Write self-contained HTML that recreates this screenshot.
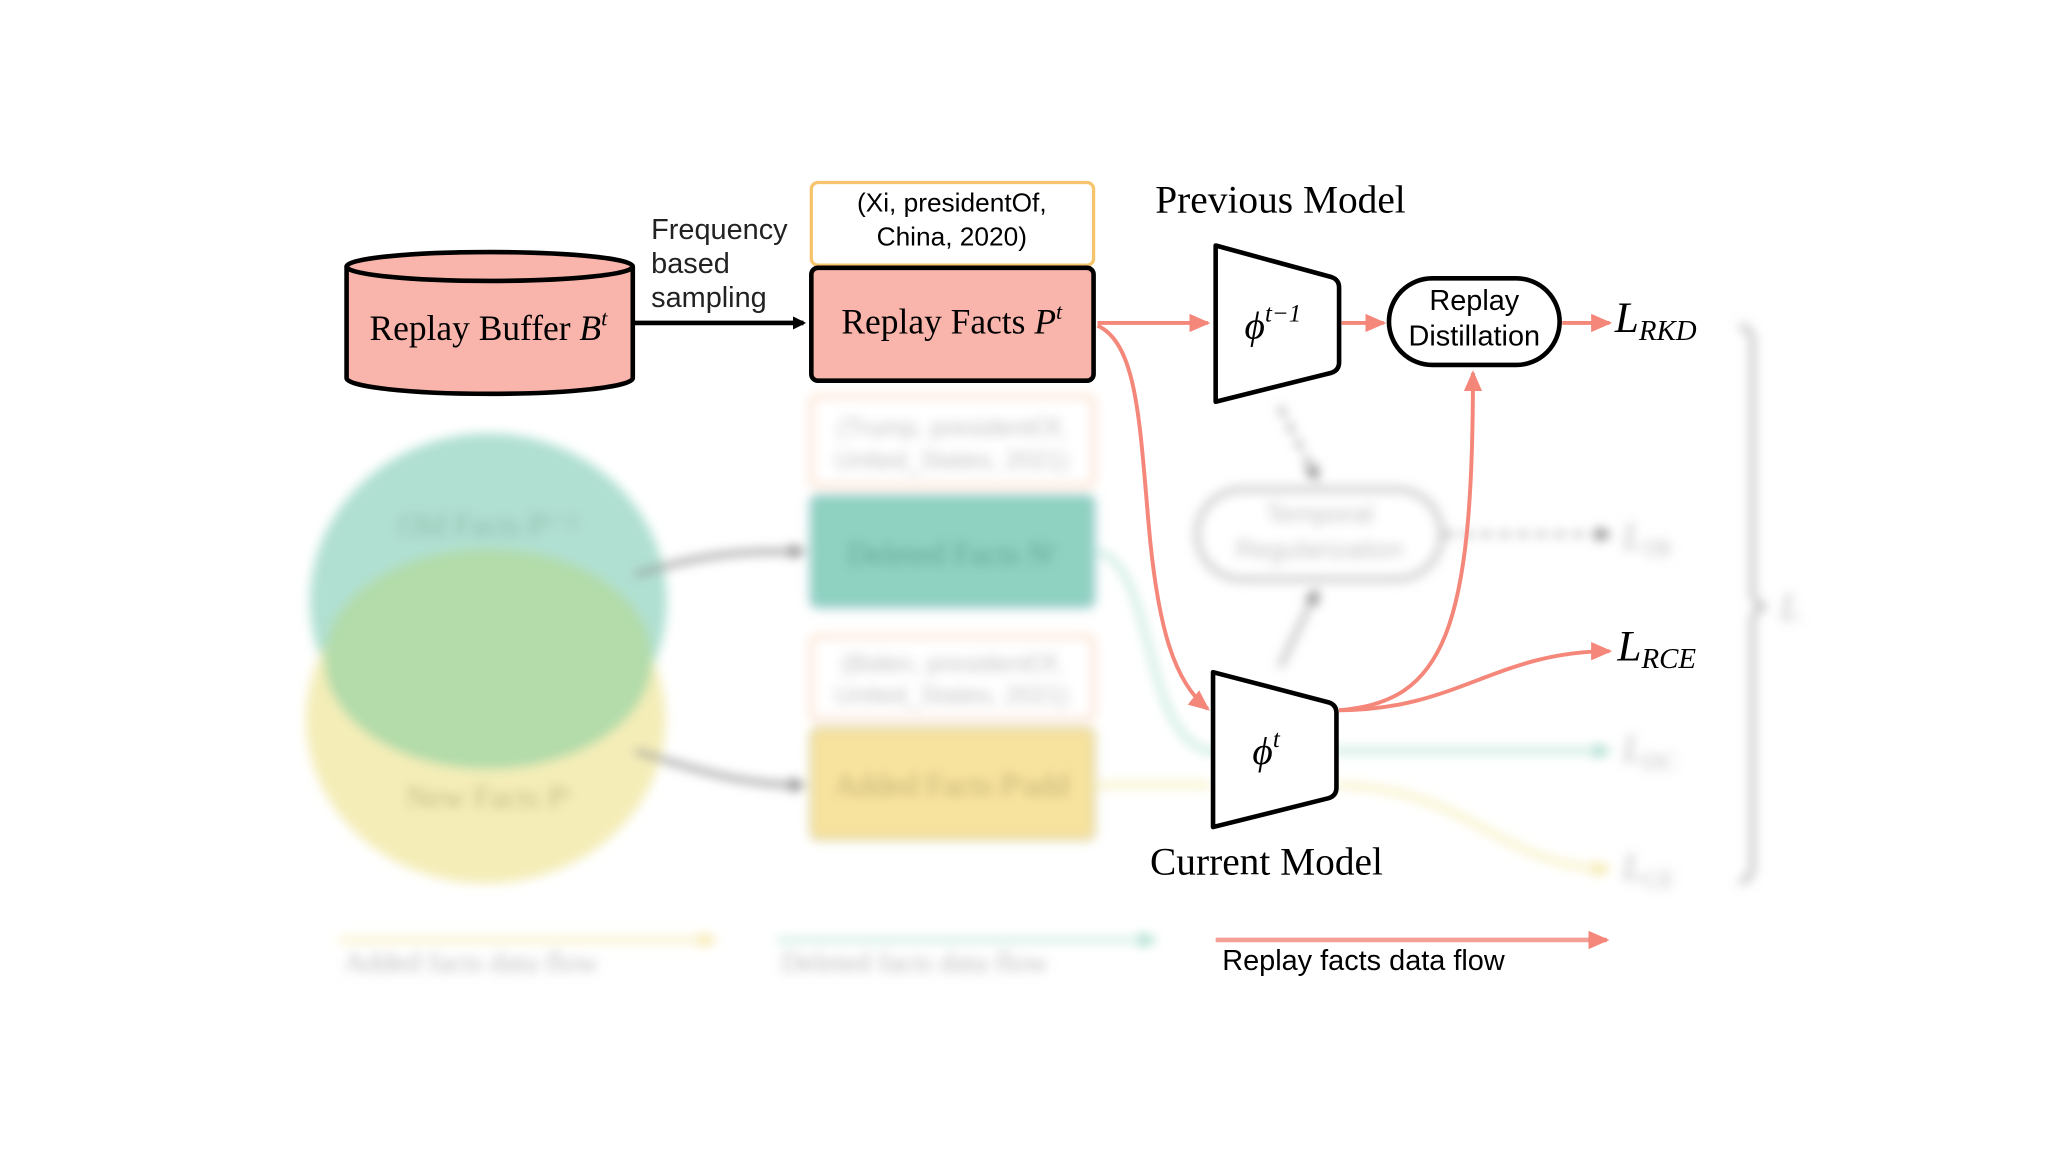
<!DOCTYPE html>
<html><head><meta charset="utf-8"><style>html,body{margin:0;padding:0;background:#fff;width:2048px;height:1152px;overflow:hidden}</style></head>
<body>
<svg width="2048" height="1152" viewBox="0 0 1560 877.5" xmlns="http://www.w3.org/2000/svg">
<defs>
<filter id="b" x="-20%" y="-20%" width="140%" height="140%"><feGaussianBlur stdDeviation="4"/></filter>
<filter id="b2" x="-20%" y="-20%" width="140%" height="140%"><feGaussianBlur stdDeviation="2.5"/></filter>
<marker id="ak" markerWidth="10" markerHeight="10" refX="8" refY="5" orient="auto" markerUnits="userSpaceOnUse"><path d="M0,0 L10,5 L0,10 z" fill="#000"/></marker>
<marker id="ar" markerWidth="16" markerHeight="14" refX="14" refY="7" orient="auto" markerUnits="userSpaceOnUse"><path d="M0,0 L16,7 L0,14 z" fill="#f4877a"/></marker>
<marker id="ag" markerWidth="12" markerHeight="12" refX="10" refY="6" orient="auto" markerUnits="userSpaceOnUse"><path d="M0,0 L12,6 L0,12 z" fill="#888"/></marker>
<marker id="at" markerWidth="14" markerHeight="12" refX="12" refY="6" orient="auto" markerUnits="userSpaceOnUse"><path d="M0,0 L14,6 L0,12 z" fill="#a9dccd"/></marker>
<marker id="ay" markerWidth="14" markerHeight="12" refX="12" refY="6" orient="auto" markerUnits="userSpaceOnUse"><path d="M0,0 L14,6 L0,12 z" fill="#f5e8a8"/></marker>
</defs>
<rect width="1560" height="877.5" fill="#fff"/>

<!-- blurred parts -->
<g filter="url(#b)">
<ellipse cx="372" cy="458" rx="136" ry="128" fill="#b0e0d2"/>
<ellipse cx="370" cy="548" rx="137" ry="125" fill="#f4edb8"/>
<ellipse cx="372" cy="502" rx="125" ry="84" fill="#b3dcaa"/>
<text x="372" y="408" font-family="Liberation Serif" font-size="24" fill="#8cb8a8" text-anchor="middle">Old Facts Pᵗ⁻¹</text>
<text x="372" y="615" font-family="Liberation Serif" font-size="24" fill="#bdb37e" text-anchor="middle">New Facts Pᵗ</text>
<rect x="618" y="302" width="215" height="68" rx="5" fill="#fff" stroke="#fbd8bf" stroke-width="3"/>
<text x="725" y="332" font-family="Liberation Sans" font-size="19" fill="#bbb" text-anchor="middle">(Trump, presidentOf,</text>
<text x="725" y="357" font-family="Liberation Sans" font-size="19" fill="#bbb" text-anchor="middle">United_States, 2021)</text>
<rect x="618" y="378" width="215" height="84" rx="5" fill="#8fd2c1" stroke="#9cc" stroke-width="3"/>
<text x="725" y="430" font-family="Liberation Serif" font-size="24" fill="#5e9e8f" text-anchor="middle">Deleted Facts Nᵗ</text>
<rect x="618" y="485" width="215" height="63" rx="5" fill="#fff" stroke="#fbd8bf" stroke-width="3"/>
<text x="725" y="512" font-family="Liberation Sans" font-size="19" fill="#bbb" text-anchor="middle">(Biden, presidentOf,</text>
<text x="725" y="536" font-family="Liberation Sans" font-size="19" fill="#bbb" text-anchor="middle">United_States, 2021)</text>
<rect x="618" y="555" width="215" height="84" rx="5" fill="#f8e39e" stroke="#ddd3a0" stroke-width="3"/>
<text x="725" y="606" font-family="Liberation Serif" font-size="24" fill="#b8a870" text-anchor="middle">Added Facts Pᵗadd</text>
<path d="M484,438 C540,420 570,420 612,420" fill="none" stroke="#999" stroke-width="4" marker-end="url(#ag)"/>
<path d="M484,572 C540,590 570,598 612,598" fill="none" stroke="#999" stroke-width="4" marker-end="url(#ag)"/>
<rect x="912" y="373" width="186" height="68" rx="34" fill="#fff" stroke="#ccc" stroke-width="5"/>
<text x="1005" y="398" font-family="Liberation Sans" font-size="20" fill="#bbb" text-anchor="middle">Temporal</text>
<text x="1005" y="425" font-family="Liberation Sans" font-size="20" fill="#bbb" text-anchor="middle">Regularization</text>
<path d="M975,310 L1003,365" stroke="#aaa" stroke-width="4" stroke-dasharray="8,6" marker-end="url(#ag)"/>
<path d="M975,508 L1003,450" stroke="#bbb" stroke-width="4" marker-end="url(#ag)"/>
<path d="M1100,407 L1226,407" stroke="#bbb" stroke-width="4" stroke-dasharray="8,6" marker-end="url(#ag)"/>
<path d="M836,420 C880,430 870,560 920,572 L1226,572" fill="none" stroke="#bfe6da" stroke-width="4" marker-end="url(#at)"/>
<path d="M836,598 L922,598 M1018,598 C1120,600 1140,660 1226,662" fill="none" stroke="#f6eeb8" stroke-width="4" marker-end="url(#ay)"/>
<text x="1236" y="418" font-family="Liberation Serif" font-style="italic" font-size="28" fill="#bbb">L<tspan font-size="18" dy="6">TR</tspan></text>
<text x="1236" y="580" font-family="Liberation Serif" font-style="italic" font-size="28" fill="#bbb">L<tspan font-size="18" dy="6">DC</tspan></text>
<text x="1236" y="670" font-family="Liberation Serif" font-style="italic" font-size="28" fill="#bbb">L<tspan font-size="18" dy="6">CE</tspan></text>
<path d="M1325,248 Q1335,250 1335,262 L1335,450 Q1335,460 1345,462 Q1335,464 1335,474 L1335,658 Q1335,670 1325,672" fill="none" stroke="#bbb" stroke-width="4"/>
<text x="1356" y="472" font-family="Liberation Serif" font-style="italic" font-size="28" fill="#bbb">L</text>
<line x1="258" y1="716" x2="545" y2="716" stroke="#f8eec0" stroke-width="4" marker-end="url(#ay)"/>
<text x="262" y="740" font-family="Liberation Serif" font-size="22" fill="#bbb">Added facts data flow</text>
<line x1="592" y1="716" x2="880" y2="716" stroke="#c8ebe0" stroke-width="4" marker-end="url(#at)"/>
<text x="595" y="740" font-family="Liberation Serif" font-size="22" fill="#bbb">Deleted facts data flow</text>
</g>

<!-- crisp parts -->
<path d="M264,203 L264,288 A109,12 0 0 0 482,288 L482,203" fill="#f9b5ac" stroke="#000" stroke-width="3.5"/>
<ellipse cx="373" cy="203" rx="109" ry="11" fill="#f9b5ac" stroke="#000" stroke-width="3.5"/>
<text x="372" y="259" font-family="Liberation Serif" font-size="27" text-anchor="middle">Replay Buffer <tspan font-style="italic">B</tspan><tspan font-style="italic" font-size="17" dy="-11">t</tspan></text>
<line x1="483" y1="246" x2="612" y2="246" stroke="#000" stroke-width="3.5" marker-end="url(#ak)"/>
<text font-family="Liberation Sans" font-size="22" fill="#222"><tspan x="496" y="182">Frequency</tspan><tspan x="496" y="208">based</tspan><tspan x="496" y="234">sampling</tspan></text>
<rect x="618" y="139" width="215" height="63" rx="5" fill="#fff" stroke="#f7c46e" stroke-width="2.5"/>
<text x="725" y="161" font-family="Liberation Sans" font-size="20" text-anchor="middle">(Xi, presidentOf,</text>
<text x="725" y="187" font-family="Liberation Sans" font-size="20" text-anchor="middle">China, 2020)</text>
<rect x="618" y="204" width="215" height="86" rx="5" fill="#f9b5ac" stroke="#000" stroke-width="3.5"/>
<text x="725" y="254" font-family="Liberation Serif" font-size="27" text-anchor="middle">Replay Facts <tspan font-style="italic">P</tspan><tspan font-style="italic" font-size="17" dy="-11">t</tspan></text>
<text x="880" y="162" font-family="Liberation Serif" font-size="30">Previous Model</text>
<path d="M926,187 L1014,211 Q1020,213 1020,219 L1020,276 Q1020,282 1014,284 L926,306 Z" fill="#fff" stroke="#000" stroke-width="3.5" stroke-linejoin="round"/>
<text x="948" y="258" font-family="Liberation Serif" font-style="italic" font-size="30">ϕ<tspan font-size="19" dy="-13">t−1</tspan></text>
<line x1="836" y1="246" x2="920" y2="246" stroke="#f4877a" stroke-width="3" marker-end="url(#ar)"/>
<line x1="1022" y1="246" x2="1054" y2="246" stroke="#f4877a" stroke-width="3" marker-end="url(#ar)"/>
<rect x="1058" y="212" width="130" height="66" rx="33" fill="#fff" stroke="#000" stroke-width="3.5"/>
<text x="1123" y="236" font-family="Liberation Sans" font-size="22" text-anchor="middle">Replay</text>
<text x="1123" y="263" font-family="Liberation Sans" font-size="22" text-anchor="middle">Distillation</text>
<line x1="1190" y1="246" x2="1226" y2="246" stroke="#f4877a" stroke-width="3" marker-end="url(#ar)"/>
<text x="1230" y="253" font-family="Liberation Serif" font-style="italic" font-size="33">L<tspan font-size="22" dy="6">RKD</tspan></text>
<path d="M836,248 C866,262 868,320 875,400 C882,480 895,520 920,540" fill="none" stroke="#f4877a" stroke-width="3" marker-end="url(#ar)"/>
<path d="M924,512 L1012,535 Q1018,537 1018,543 L1018,600 Q1018,606 1012,608 L924,630 Z" fill="#fff" stroke="#000" stroke-width="3.5" stroke-linejoin="round"/>
<text x="954" y="582" font-family="Liberation Serif" font-style="italic" font-size="30">ϕ<tspan font-size="19" dy="-13">t</tspan></text>
<path d="M1020,541 C1100,535 1122,480 1122,284" fill="none" stroke="#f4877a" stroke-width="3" marker-end="url(#ar)"/>
<path d="M1020,541 C1110,541 1140,496 1226,496" fill="none" stroke="#f4877a" stroke-width="3" marker-end="url(#ar)"/>
<text x="1232" y="503" font-family="Liberation Serif" font-style="italic" font-size="33">L<tspan font-size="22" dy="6">RCE</tspan></text>
<text x="876" y="666" font-family="Liberation Serif" font-size="30">Current Model</text>
<line x1="926" y1="716" x2="1224" y2="716" stroke="#f4a096" stroke-width="3.5" marker-end="url(#ar)"/>
<text x="931" y="739" font-family="Liberation Sans" font-size="22">Replay facts data flow</text>
</svg>
</body></html>
